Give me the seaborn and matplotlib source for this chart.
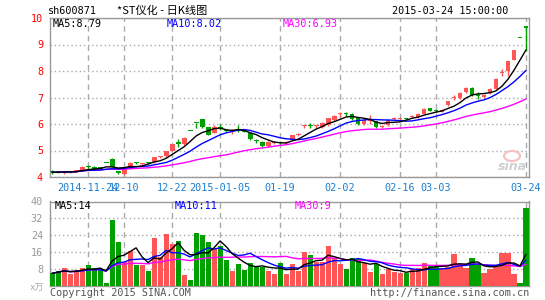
import numpy as np
import pandas as pd
import matplotlib
matplotlib.use("Agg")
import matplotlib.pyplot as plt
import seaborn as sns
from matplotlib.patches import Ellipse

# ---------------- data ----------------
opens = [4.22, 4.19, 4.18, 4.19, 4.21, 4.24, 4.39, 4.38, 4.33, 4.54,
         4.68, 4.21, 4.10, 4.38, 4.53, 4.49, 4.53, 4.55, 4.74, 4.78,
         5.00, 5.32, 5.25, 5.74, 6.03, 6.19, 5.87, 5.67, 5.88, 5.74,
         5.72, 5.78, 5.76, 5.67, 5.39, 5.32, 5.17, 5.29, 5.32, 5.28,
         5.40, 5.60, 5.92, 5.96, 5.93, 5.89, 5.96, 6.15, 6.36, 6.41,
         6.37, 6.21, 5.99, 6.12, 6.11, 5.90, 5.96, 6.19, 6.20, 6.21,
         6.27, 6.25, 6.38, 6.60, 6.51, 6.46, 6.70, 6.99, 6.98, 7.21,
         7.36, 7.09, 7.02, 7.17, 7.33, 7.94, 8.01, 8.42, 9.23, 9.69]
highs = [4.25, 4.22, 4.24, 4.23, 4.26, 4.40, 4.45, 4.40, 4.35, 4.54,
         4.70, 4.24, 4.37, 4.56, 4.57, 4.54, 4.56, 4.76, 4.80, 4.99,
         5.25, 5.42, 5.50, 5.74, 6.03, 6.20, 5.90, 5.96, 6.00, 5.78,
         5.80, 5.96, 5.78, 5.70, 5.45, 5.34, 5.34, 5.35, 5.35, 5.34,
         5.58, 5.66, 5.96, 6.02, 5.97, 6.06, 6.24, 6.34, 6.44, 6.45,
         6.40, 6.22, 6.17, 6.34, 6.13, 5.95, 6.18, 6.26, 6.26, 6.23,
         6.34, 6.40, 6.60, 6.62, 6.56, 6.56, 6.88, 7.08, 7.20, 7.38,
         7.39, 7.22, 7.12, 7.37, 7.75, 8.09, 8.38, 8.79, 9.23, 9.69]
lows = [4.12, 4.14, 4.12, 4.15, 4.17, 4.22, 4.30, 4.27, 4.30, 4.54,
        4.36, 4.12, 4.08, 4.36, 4.48, 4.46, 4.49, 4.52, 4.70, 4.76,
        4.98, 5.15, 5.22, 5.74, 5.85, 5.86, 5.58, 5.65, 5.78, 5.68,
        5.62, 5.70, 5.68, 5.40, 5.28, 5.15, 5.15, 5.25, 5.26, 5.25,
        5.38, 5.55, 5.84, 5.84, 5.85, 5.86, 5.94, 6.12, 6.26, 6.30,
        6.16, 5.97, 5.96, 5.99, 5.86, 5.86, 5.94, 6.14, 6.15, 6.18,
        6.22, 6.22, 6.36, 6.48, 6.44, 6.44, 6.68, 6.92, 6.95, 7.18,
        7.05, 6.93, 7.00, 7.15, 7.31, 7.80, 7.82, 8.40, 9.23, 8.77]
closes = [4.18, 4.18, 4.20, 4.21, 4.23, 4.38, 4.37, 4.30, 4.32, 4.54,
          4.38, 4.16, 4.36, 4.53, 4.52, 4.51, 4.52, 4.75, 4.76, 4.98,
          5.23, 5.26, 5.47, 5.74, 6.03, 5.88, 5.60, 5.87, 5.85, 5.72,
          5.75, 5.76, 5.70, 5.43, 5.37, 5.17, 5.32, 5.31, 5.29, 5.32,
          5.57, 5.62, 5.95, 5.94, 5.95, 6.04, 6.21, 6.29, 6.38, 6.39,
          6.18, 5.99, 6.15, 6.14, 5.89, 5.93, 6.16, 6.21, 6.22, 6.20,
          6.29, 6.38, 6.58, 6.50, 6.49, 6.52, 6.85, 7.01, 7.17, 7.36,
          7.08, 7.06, 7.08, 7.33, 7.70, 7.97, 8.37, 8.79, 9.23, 9.62]
volumes = [5.8, 6.9, 8.2, 5.5, 7.4, 8.2, 9.8, 8.2, 7.8, 1.0,
           31.2, 20.9, 11.3, 16.4, 9.8, 9.8, 7.1, 22.8, 13.4, 24.4,
           19.8, 21.2, 5.0, 2.6, 25.2, 24.0, 20.9, 17.2, 18.8, 12.1,
           7.1, 10.2, 7.4, 10.9, 9.3, 9.0, 7.1, 5.5, 10.6, 5.5,
           10.2, 7.1, 16.1, 14.5, 11.3, 11.3, 18.8, 12.9, 10.2, 7.8,
           12.9, 12.5, 10.9, 6.6, 10.1, 5.5, 7.7, 6.4, 5.8, 6.1,
           7.9, 8.2, 10.6, 9.4, 9.0, 8.5, 9.0, 15.0, 10.1, 8.2,
           12.9, 9.8, 5.8, 7.8, 9.0, 15.6, 15.6, 5.5, 1.0, 36.8]
tick_idx = [6, 12, 20, 28, 38, 48, 58, 64, 79]
tick_labels = ["2014-11-24", "12-10", "12-22", "2015-01-05", "01-19",
               "02-02", "02-16", "03-03", "03-24"]
price_ticks = [4, 5, 6, 7, 8, 9, 10]
vol_ticks = [8, 16, 24, 32, 40]
ma_price_labels = ["MA5:8.79", "MA10:8.02", "MA30:6.93"]
ma_vol_labels = ["MA5:14", "MA10:11", "MA30:9"]

# ---------------- style ----------------
sns.set_style("white")
plt.rcParams['font.family'] = ['DejaVu Sans Mono', 'Noto Sans CJK SC']

RED = "#ff5555"
GREEN = "#00a000"
GRID = "#aaaaaa"
FRAME = "#999999"
BLUE_TXT = "#1a7dd0"

W, H = 545, 300
fig = plt.figure(figsize=(W / 100, H / 100), dpi=100)
fig.patch.set_facecolor("white")

def fx(px):
    return px / W

def fy(py):
    return 1 - py / H

df = pd.DataFrame({"i": np.arange(len(closes)), "o": opens, "h": highs,
                   "l": lows, "c": closes, "v": volumes})
df["up"] = np.where(df["c"] > df["o"], "up", "down")
pal = {"up": RED, "down": GREEN}
cols = [pal[u] for u in df["up"]]
df["ma5"] = df["c"].rolling(5, min_periods=1).mean()
df["ma10"] = df["c"].rolling(10, min_periods=1).mean()
df["ma30"] = df["c"].rolling(30, min_periods=1).mean()
df["vma5"] = df["v"].rolling(5, min_periods=1).mean()
df["vma10"] = df["v"].rolling(10, min_periods=1).mean()
df["vma30"] = df["v"].rolling(30, min_periods=1).mean()

xlim = (-0.35, 79.5)

def style_frame(a):
    for s in a.spines.values():
        s.set_color(FRAME)
        s.set_linewidth(1)
        s.set_visible(True)

# ---------------- price panel ----------------
ax = fig.add_axes([fx(50), fy(177), fx(479), 159 / H])
ax.vlines(df["i"], df["l"], df["h"], colors=cols, lw=1, zorder=3)
body_h = np.maximum(np.abs(df["c"] - df["o"]), 0.04)
body_b = np.minimum(df["c"], df["o"])
ax.bar(df["i"], body_h, bottom=body_b, width=0.82, color=cols, lw=0, zorder=3)
sns.lineplot(data=df, x="i", y="ma30", color="#ff00ff", lw=1, ax=ax, zorder=4)
sns.lineplot(data=df, x="i", y="ma10", color="#0000ff", lw=1, ax=ax, zorder=4)
sns.lineplot(data=df, x="i", y="ma5", color="black", lw=1, ax=ax, zorder=4)
ax.set_xlim(*xlim)
ax.set_ylim(4, 10)
ax.set_yticks(price_ticks)
ax.set_yticklabels([str(t) for t in price_ticks])
ax.set_xticks(tick_idx)
ax.set_xticklabels(tick_labels)
ax.tick_params(axis="y", length=0, pad=5, labelcolor="#ff0000", labelsize=7.3)
ax.tick_params(axis="x", length=0, pad=4, labelcolor=BLUE_TXT, labelsize=7.3)
ax.set_xlabel("")
ax.set_ylabel("")
ax.grid(axis="x", linestyle=(0, (4, 3)), color=GRID, lw=1)
ax.grid(axis="y", linestyle=(0, (1, 2)), color=GRID, lw=1)
style_frame(ax)

for lab, col, px in zip(ma_price_labels, ["black", "#0000ff", "#ff00ff"], [53, 167, 283]):
    fig.text(fx(px), fy(24), lab, color=col, fontsize=7.3, va="center", ha="left")

# watermark
fig.patches.append(Ellipse((fx(512), fy(156)), 16 / W, 10 / H, transform=fig.transFigure,
                           facecolor="none", edgecolor="#f6c0c0", lw=1.5))
fig.text(fx(512), fy(167), "sina", color="#d0d0d0", fontsize=9, fontweight="bold",
         style="italic", ha="center", va="center", family="DejaVu Sans")

# ---------------- volume panel ----------------
axv = fig.add_axes([fx(50), fy(285.5), fx(479), 84 / H])
axv.bar(df["i"], df["v"], width=0.84, color=cols, lw=0, zorder=3)
sns.lineplot(data=df, x="i", y="vma30", color="#ff00ff", lw=1, ax=axv, zorder=4)
sns.lineplot(data=df, x="i", y="vma10", color="#0000ff", lw=1, ax=axv, zorder=4)
sns.lineplot(data=df, x="i", y="vma5", color="black", lw=1, ax=axv, zorder=4)
axv.set_xlim(*xlim)
axv.set_ylim(0, 40)
axv.set_yticks(vol_ticks)
axv.set_yticklabels([str(t) for t in vol_ticks])
axv.set_xticks(tick_idx)
axv.set_xticklabels([])
axv.tick_params(axis="y", length=0, pad=5, labelcolor="#999999", labelsize=7.3)
axv.tick_params(axis="x", length=0)
axv.set_xlabel("")
axv.set_ylabel("")
axv.grid(axis="x", linestyle=(0, (4, 3)), color=GRID, lw=1)
axv.grid(axis="y", linestyle=(0, (1, 2)), color=GRID, lw=1)
style_frame(axv)

for lab, col, px in zip(ma_vol_labels, ["black", "#0000ff", "#ff00ff"], [55, 175, 295]):
    fig.text(fx(px), fy(206), lab, color=col, fontsize=7.3, va="center", ha="left")

fig.text(fx(44), fy(288), "x万", color="#aaaaaa", fontsize=6.5, ha="right", va="center",
         family=["DejaVu Sans Mono", "Noto Sans CJK SC"])

# ---------------- header / footer ----------------
fig.text(fx(48), fy(11), "sh600871", color="black", fontsize=7.3, va="center", ha="left")
fig.text(fx(117), fy(11), "*ST仪化 - 日K线图", color="black", fontsize=8, va="center",
         ha="left", family=["Noto Sans CJK SC", "DejaVu Sans"])
fig.text(fx(508), fy(11), "2015-03-24 15:00:00", color="black", fontsize=7.3,
         va="center", ha="right")
fig.text(fx(50), fy(293), "Copyright 2015 SINA.COM", color="#555555", fontsize=7.3,
         va="center", ha="left")
fig.text(fx(529), fy(293), "http://finance.sina.com.cn", color="#555555", fontsize=7.3,
         va="center", ha="right")

fig.savefig("out.png", dpi=100, facecolor="white")
